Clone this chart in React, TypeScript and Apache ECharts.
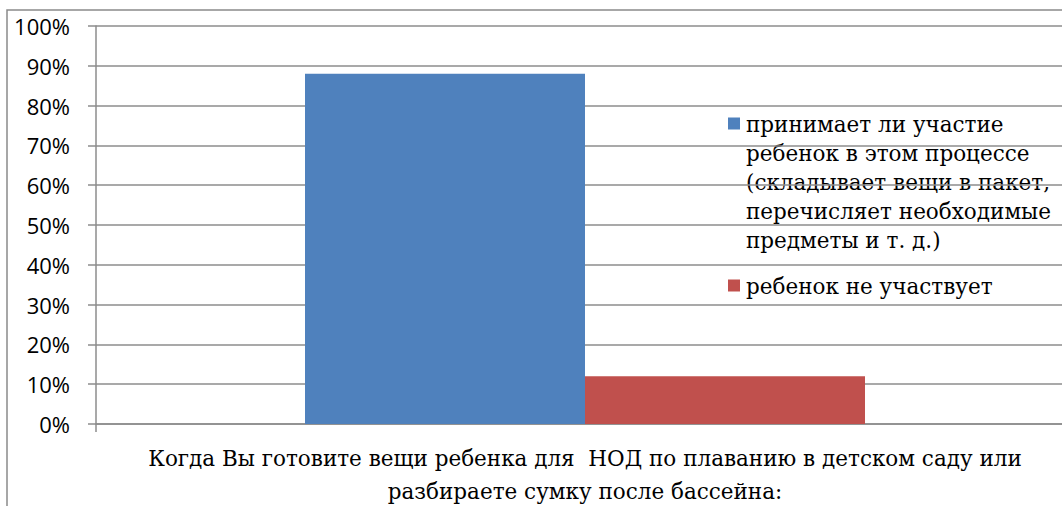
import React, { useEffect, useRef } from "react";
import * as echarts from "echarts";

const categories = [
  "Когда Вы готовите вещи ребенка для  НОД по плаванию в детском саду или\nразбираете сумку после бассейна:",
];
const seriesNames = [
  "принимает ли участие\nребенок в этом процессе\n(складывает вещи в пакет,\nперечисляет необходимые\nпредметы и т. д.)",
  "ребенок не участвует",
];
const participates = [88];
const notParticipates = [12];
const seriesColors = ["#4F81BD", "#C0504D"];
const yMin = 0;
const yMax = 100;
const yStep = 10;

const SERIF = "DejaVu Serif";

export default function App() {
  const ref = useRef<HTMLDivElement>(null);
  useEffect(() => {
    if (!ref.current) return;
    const chart = echarts.init(ref.current, null, { renderer: "svg" });
    const gridColor = "#8c8c8c";
    const legendTops = [110, 272];
    const graphic: any[] = [
      {
        type: "rect",
        shape: { x: 7, y: 10, width: 1200, height: 700 },
        style: { fill: "none", stroke: "#8a8a8a", lineWidth: 1.5 },
        silent: true,
      },
    ];
    seriesNames.forEach((name, i) => {
      graphic.push({
        type: "rect",
        shape: { x: 728, y: legendTops[i] + 7.5, width: 12, height: 12 },
        style: { fill: seriesColors[i] },
      });
      graphic.push({
        type: "text",
        x: 746,
        y: legendTops[i],
        style: {
          text: name,
          fontSize: 21.5,
          fontFamily: SERIF,
          lineHeight: 29,
          fill: "#000",
          verticalAlign: "top",
          align: "left",
        },
      });
    });
    chart.setOption({
      animation: false,
      backgroundColor: "#fff",
      grid: { left: 96, top: 26, width: 978, height: 398, containLabel: false, outerBoundsMode: "none" },
      xAxis: {
        type: "category",
        data: categories,
        axisLine: { lineStyle: { color: gridColor, width: 1.5 } },
        axisTick: { show: true, length: 8, alignWithLabel: false, lineStyle: { color: gridColor, width: 1.5 } },
        axisLabel: {
          interval: 0,
          margin: 18,
          color: "#000",
          fontFamily: SERIF,
          fontSize: 21.5,
          lineHeight: 33,
        },
      },
      yAxis: {
        type: "value",
        min: yMin,
        max: yMax,
        interval: yStep,
        axisLine: { show: true, lineStyle: { color: gridColor, width: 1.5 } },
        axisTick: { show: true, length: 8, lineStyle: { color: gridColor, width: 1.5 } },
        splitLine: { show: true, lineStyle: { color: gridColor, width: 1.5 } },
        axisLabel: {
          margin: 26,
          color: "#000",
          fontFamily: "Open Sans",
          fontSize: 22,
          formatter: "{value}%",
        },
      },
      series: [
        {
          name: seriesNames[0],
          type: "bar",
          data: participates,
          barWidth: 280,
          barGap: "0%",
          itemStyle: { color: seriesColors[0] },
        },
        {
          name: seriesNames[1],
          type: "bar",
          data: notParticipates,
          barWidth: 280,
          barGap: "0%",
          itemStyle: { color: seriesColors[1] },
        },
      ],
      graphic,
    });
    return () => chart.dispose();
  }, []);
  return (
    <div
      ref={ref}
      style={{ position: "fixed", left: 0, top: 0, width: 1062, height: 506, background: "#fff" }}
    />
  );
}
